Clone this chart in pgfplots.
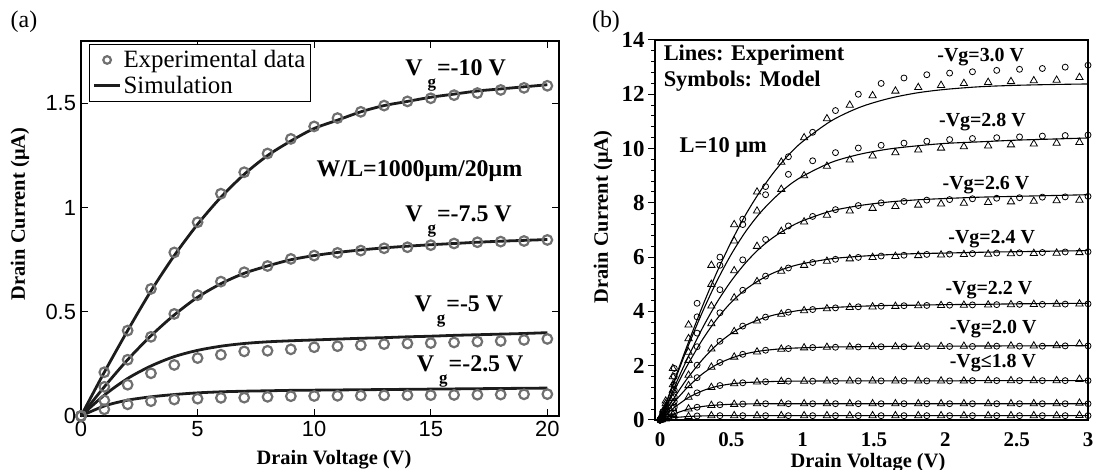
\documentclass[border=0pt]{standalone}
\usepackage{fontspec}
\setmainfont{Liberation Serif}
\newfontfamily\arialfont{Liberation Sans}
\usepackage{pgfplots}
\usepackage{pgfplotstable}
\pgfplotsset{compat=1.18}

\definecolor{circgray}{RGB}{112,112,112}
\definecolor{simblack}{RGB}{28,28,28}

\pgfplotsset{
  circlegend/.style={legend image code/.code={\draw[mark repeat=2,mark phase=2,##1,mark size=3.8bp] plot coordinates {(0bp,0bp) (13bp,0bp) (26bp,0bp)};}},
  linelegend/.style={legend image code/.code={\draw[##1] (0bp,0bp) -- (26bp,0bp);}},
}

\pgfplotstableread{
V C10 L10 C75 L75 C5 L5 C25 L25
0 0 0 0 0 0 0 0 0
1 0.21 0.21 0.14 0.14 0.075 0.10 0.032 0.048
2 0.41 0.41 0.27 0.27 0.15 0.18 0.056 0.076
3 0.61 0.60 0.38 0.385 0.205 0.24 0.071 0.092
4 0.785 0.77 0.49 0.485 0.245 0.285 0.079 0.103
5 0.93 0.92 0.58 0.57 0.278 0.315 0.083 0.111
6 1.067 1.05 0.645 0.635 0.294 0.335 0.087 0.116
7 1.17 1.16 0.69 0.685 0.31 0.348 0.088 0.119
8 1.26 1.25 0.72 0.72 0.313 0.356 0.092 0.121
9 1.33 1.32 0.754 0.75 0.32 0.361 0.095 0.123
10 1.39 1.38 0.77 0.77 0.33 0.365 0.096 0.124
11 1.43 1.42 0.783 0.785 0.335 0.369 0.097 0.125
12 1.46 1.46 0.794 0.797 0.34 0.373 0.098 0.126
13 1.49 1.49 0.805 0.807 0.345 0.376 0.099 0.127
14 1.51 1.51 0.81 0.815 0.348 0.38 0.10 0.128
15 1.525 1.53 0.82 0.822 0.35 0.383 0.10 0.129
16 1.54 1.545 0.828 0.828 0.353 0.387 0.101 0.130
17 1.55 1.56 0.834 0.834 0.357 0.39 0.102 0.131
18 1.565 1.57 0.837 0.839 0.36 0.393 0.103 0.132
19 1.575 1.58 0.84 0.843 0.365 0.396 0.104 0.133
20 1.585 1.59 0.845 0.847 0.37 0.40 0.105 0.134
}\leftdata

\pgfplotstableread{
V L30 L28 L26 L24 L22 L20 L18 Lb Lc
0 0 0 0 0 0 0 0 0 0
0.05 0.73 0.71 0.60 0.54 0.42 0.33 0.23 0.12 0.05
0.1 1.46 1.40 1.20 1.08 0.82 0.66 0.46 0.23 0.09
0.15 2.17 2.09 1.79 1.60 1.22 0.96 0.65 0.32 0.11
0.2 2.87 2.76 2.35 2.09 1.59 1.24 0.83 0.40 0.13
0.3 4.22 4.01 3.41 2.98 2.24 1.71 1.08 0.50 0.15
0.4 5.46 5.13 4.34 3.73 2.78 2.05 1.24 0.55 0.16
0.5 6.57 6.11 5.13 4.34 3.19 2.28 1.33 0.58 0.16
0.6 7.56 6.94 5.79 4.81 3.49 2.44 1.38 0.59 0.16
0.7 8.41 7.62 6.33 5.16 3.71 2.54 1.40 0.60 0.16
0.8 9.14 8.17 6.75 5.43 3.87 2.60 1.42 0.60 0.16
0.9 9.76 8.63 7.08 5.62 3.97 2.64 1.43 0.60 0.16
1.0 10.26 8.98 7.34 5.76 4.05 2.66 1.43 0.60 0.16
1.2 11.02 9.49 7.70 5.94 4.14 2.69 1.44 0.60 0.16
1.4 11.52 9.79 7.90 6.03 4.19 2.70 1.44 0.60 0.16
1.6 11.84 9.98 8.03 6.09 4.22 2.71 1.44 0.60 0.16
1.8 12.05 10.10 8.11 6.13 4.23 2.72 1.44 0.60 0.16
2.0 12.18 10.19 8.16 6.15 4.25 2.72 1.44 0.60 0.16
2.25 12.28 10.25 8.21 6.18 4.26 2.725 1.45 0.60 0.16
2.5 12.33 10.31 8.24 6.20 4.28 2.73 1.45 0.60 0.16
2.75 12.36 10.35 8.27 6.22 4.29 2.735 1.45 0.60 0.16
3.0 12.38 10.39 8.30 6.24 4.30 2.74 1.45 0.60 0.16
}\rlines

\pgfplotstableread{
V C30 C28 C26 C24 C22 C20 C18 Cb Cc
0 0 0 0 0 0 0 0 0 0
0.02 0.3 0.3 0.25 0.22 0.17 0.13 0.09 0.05 0.02
0.10 1.9 1.6 1.3 1.1 0.85 0.68 0.47 0.24 0.09
0.26 4.3 3.8 3.2 2.7 2.02 1.56 1.0 0.47 0.15
0.42 6.0 5.7 4.8 3.95 2.9 2.12 1.27 0.56 0.16
0.58 7.4 7.2 5.9 4.78 3.46 2.42 1.37 0.59 0.16
0.74 8.6 8.3 6.65 5.3 3.79 2.57 1.41 0.60 0.16
0.90 9.7 9.05 7.15 5.6 3.97 2.63 1.43 0.60 0.16
1.07 10.6 9.55 7.5 5.8 4.07 2.67 1.43 0.60 0.16
1.23 11.4 9.85 7.75 5.92 4.13 2.68 1.43 0.60 0.16
1.39 12.0 10.02 7.9 5.99 4.17 2.69 1.44 0.60 0.16
1.55 12.4 10.12 8.0 6.04 4.19 2.70 1.44 0.60 0.16
1.71 12.6 10.2 8.05 6.07 4.21 2.70 1.44 0.60 0.16
1.87 12.72 10.27 8.1 6.1 4.22 2.71 1.44 0.60 0.16
2.03 12.78 10.33 8.12 6.11 4.23 2.71 1.44 0.60 0.16
2.19 12.83 10.37 8.15 6.13 4.24 2.71 1.45 0.60 0.16
2.36 12.88 10.4 8.17 6.15 4.25 2.72 1.45 0.60 0.16
2.52 12.92 10.43 8.19 6.16 4.26 2.72 1.45 0.60 0.16
2.68 12.95 10.46 8.21 6.17 4.26 2.72 1.45 0.60 0.16
2.84 13.0 10.48 8.22 6.19 4.27 2.73 1.45 0.60 0.16
3.00 13.07 10.5 8.24 6.20 4.28 2.73 1.45 0.60 0.16
}\rcirc

\pgfplotstableread{
V T30 T28 T26 T24 T22 T20 T18 Tb Tc
0.01 0.15 0.15 0.13 0.11 0.08 0.07 0.05 0.02 0.01
0.04 0.7 0.6 0.5 0.45 0.34 0.28 0.19 0.10 0.04
0.09 1.9 1.6 1.3 1.1 0.80 0.62 0.43 0.21 0.08
0.20 3.5 3.0 2.5 2.2 1.65 1.27 0.84 0.41 0.13
0.36 5.7 5.0 4.2 3.55 2.62 1.95 1.20 0.54 0.16
0.52 7.2 6.6 5.5 4.5 3.26 2.32 1.34 0.58 0.16
0.68 8.4 7.7 6.4 5.1 3.65 2.51 1.40 0.60 0.16
0.85 9.5 8.5 6.95 5.48 3.90 2.61 1.42 0.60 0.16
1.01 10.4 9.0 7.3 5.70 4.03 2.66 1.43 0.60 0.16
1.17 11.1 9.35 7.55 5.85 4.10 2.68 1.44 0.60 0.16
1.33 11.6 9.58 7.7 5.94 4.15 2.69 1.44 0.60 0.16
1.49 11.95 9.73 7.8 5.99 4.17 2.70 1.44 0.60 0.16
1.65 12.12 9.85 7.87 6.03 4.19 2.70 1.44 0.60 0.16
1.81 12.25 9.95 7.92 6.06 4.21 2.71 1.44 0.60 0.16
1.97 12.33 10.02 7.96 6.08 4.22 2.71 1.44 0.60 0.16
2.13 12.40 10.07 7.99 6.10 4.23 2.72 1.44 0.60 0.16
2.30 12.44 10.10 8.02 6.11 4.24 2.72 1.45 0.60 0.16
2.46 12.47 10.14 8.04 6.13 4.25 2.73 1.45 0.60 0.16
2.62 12.50 10.17 8.06 6.14 4.26 2.73 1.45 0.60 0.16
2.78 12.52 10.20 8.08 6.15 4.27 2.74 1.45 0.60 0.16
2.94 12.62 10.23 8.10 6.17 4.28 2.80 1.50 0.62 0.17
}\rtri

\newcommand{\lbl}[1]{\fontsize{#1}{#1}\selectfont\bfseries}
\newcommand{\Vg}[1]{V\hspace{5bp}\raisebox{-12bp}{\fontsize{17}{17}\selectfont\bfseries g}\hspace{1bp}#1}

\begin{document}
\begin{tikzpicture}[x=1bp,y=1bp]
\useasboundingbox (0,0) rectangle (1094,470);
\node[font=\fontsize{24}{24}\selectfont] at (24,448) {(a)};
\node[font=\fontsize{24}{24}\selectfont] at (606,448) {(b)};
\node[font=\lbl{20.5}, anchor=base] at (334,5) {Drain Voltage (V)};
\node[font=\lbl{20.5}, anchor=base] at (868,2.5) {Drain Voltage (V)};
\node[font=\lbl{20.5}, rotate=90] at (20,256) {Drain Current (μA)};
\node[font=\lbl{20.5}, rotate=90] at (603,253) {Drain Current (μA)};

\begin{axis}[
  at={(81bp,54bp)}, anchor=south west, scale only axis,
  width=478bp, height=375bp,
  xmin=0, xmax=20.5, ymin=0, ymax=1.8,
  xtick={0,5,10,15,20}, ytick={0,0.5,1,1.5},
  yticklabels={0,0.5,1,1.5},
  tick align=inside, major tick length=7bp,
  axis line style={line width=1.2bp},
  tick style={line width=1bp, black},
  ticklabel style={font=\arialfont\fontsize{22}{22}\selectfont},
  xticklabel style={yshift=-2bp},
  yticklabel style={xshift=-1.5bp},
  /pgf/number format/assume math mode=true,
  clip=false,
  legend cell align=left,
  legend style={at={(0.017,0.992)}, anchor=north west, draw=black, line width=1.2bp,
    font=\fontsize{25}{27}\selectfont, inner xsep=3bp, inner ysep=4bp,
    row sep=3bp, nodes={inner sep=2bp}},
]
\addplot[only marks, mark=o, mark size=4.8bp, circgray, line width=2.2bp, circlegend]
  table[x=V,y=C10]{\leftdata};
\addlegendentry{Experimental data}
\addplot[simblack, line width=2.8bp, smooth, linelegend]
  table[x=V,y=L10]{\leftdata};
\addlegendentry{Simulation}
\addplot[forget plot, only marks, mark=o, mark size=4.8bp, circgray, line width=2.2bp] table[x=V,y=C75]{\leftdata};
\addplot[forget plot, simblack, line width=2.8bp, smooth] table[x=V,y=L75]{\leftdata};
\addplot[forget plot, only marks, mark=o, mark size=4.8bp, circgray, line width=2.2bp] table[x=V,y=C5]{\leftdata};
\addplot[forget plot, simblack, line width=2.8bp, smooth] table[x=V,y=L5]{\leftdata};
\addplot[forget plot, only marks, mark=o, mark size=4.8bp, circgray, line width=2.2bp] table[x=V,y=C25]{\leftdata};
\addplot[forget plot, simblack, line width=2.8bp, smooth] table[x=V,y=L25]{\leftdata};

\node[anchor=base west, inner sep=0, font=\lbl{24}] at (axis cs:13.9,1.635) {\Vg{=-10 V}};
\node[anchor=base west, inner sep=0, font=\lbl{24}] at (axis cs:10.1,1.151) {W/L=1000μm/20μm};
\node[anchor=base west, inner sep=0, font=\lbl{24}] at (axis cs:13.9,0.932) {\Vg{=-7.5 V}};
\node[anchor=base west, inner sep=0, font=\lbl{24}] at (axis cs:14.3,0.50) {\Vg{=-5 V}};
\node[anchor=base west, inner sep=0, font=\lbl{24}] at (axis cs:14.4,0.214) {\Vg{=-2.5 V}};
\end{axis}

\begin{axis}[
  at={(655bp,50bp)}, anchor=south west, scale only axis,
  width=433bp, height=380bp,
  xmin=-0.035, xmax=3, ymin=0, ymax=14,
  xtick={0,0.5,1,1.5,2,2.5,3}, xticklabels={0,0.5,1,1.5,2,2.5,3},
  ytick={0,2,4,6,8,10,12,14},
  minor y tick num=4,
  ytick pos=left, xtick pos=bottom,
  x tick style={draw=none},
  tick align=outside, major tick length=7bp, minor tick length=4bp,
  axis line style={line width=1.2bp},
  y tick style={line width=1bp, black},
  xticklabel style={font=\lbl{21}, yshift=-2bp},
  yticklabel style={font=\lbl{23}},
  /pgf/number format/assume math mode=true,
]
\addplot[black, line width=1.1bp, smooth] table[x=V,y=L30]{\rlines};
\addplot[black, line width=1.1bp, smooth] table[x=V,y=L28]{\rlines};
\addplot[black, line width=1.1bp, smooth] table[x=V,y=L26]{\rlines};
\addplot[black, line width=1.1bp, smooth] table[x=V,y=L24]{\rlines};
\addplot[black, line width=1.1bp, smooth] table[x=V,y=L22]{\rlines};
\addplot[black, line width=1.1bp, smooth] table[x=V,y=L20]{\rlines};
\addplot[black, line width=1.1bp, smooth] table[x=V,y=L18]{\rlines};
\addplot[black, line width=1.1bp, smooth] table[x=V,y=Lb]{\rlines};
\addplot[black, line width=1.1bp, smooth] table[x=V,y=Lc]{\rlines};
\addplot[only marks, mark=o, mark size=3bp, black, line width=0.8bp] table[x=V,y=C30]{\rcirc};
\addplot[only marks, mark=o, mark size=3bp, black, line width=0.8bp] table[x=V,y=C28]{\rcirc};
\addplot[only marks, mark=o, mark size=3bp, black, line width=0.8bp] table[x=V,y=C26]{\rcirc};
\addplot[only marks, mark=o, mark size=3bp, black, line width=0.8bp] table[x=V,y=C24]{\rcirc};
\addplot[only marks, mark=o, mark size=3bp, black, line width=0.8bp] table[x=V,y=C22]{\rcirc};
\addplot[only marks, mark=o, mark size=3bp, black, line width=0.8bp] table[x=V,y=C20]{\rcirc};
\addplot[only marks, mark=o, mark size=3bp, black, line width=0.8bp] table[x=V,y=C18]{\rcirc};
\addplot[only marks, mark=o, mark size=3bp, black, line width=0.8bp] table[x=V,y=Cb]{\rcirc};
\addplot[only marks, mark=o, mark size=3bp, black, line width=0.8bp] table[x=V,y=Cc]{\rcirc};
\addplot[only marks, mark=triangle, mark size=4.2bp, black, line width=0.8bp] table[x=V,y=T30]{\rtri};
\addplot[only marks, mark=triangle, mark size=4.2bp, black, line width=0.8bp] table[x=V,y=T28]{\rtri};
\addplot[only marks, mark=triangle, mark size=4.2bp, black, line width=0.8bp] table[x=V,y=T26]{\rtri};
\addplot[only marks, mark=triangle, mark size=4.2bp, black, line width=0.8bp] table[x=V,y=T24]{\rtri};
\addplot[only marks, mark=triangle, mark size=4.2bp, black, line width=0.8bp] table[x=V,y=T22]{\rtri};
\addplot[only marks, mark=triangle, mark size=4.2bp, black, line width=0.8bp] table[x=V,y=T20]{\rtri};
\addplot[only marks, mark=triangle, mark size=4.2bp, black, line width=0.8bp] table[x=V,y=T18]{\rtri};
\addplot[only marks, mark=triangle, mark size=4.2bp, black, line width=0.8bp] table[x=V,y=Tb]{\rtri};
\addplot[only marks, mark=triangle, mark size=4.2bp, black, line width=0.8bp] table[x=V,y=Tc]{\rtri};
\node[anchor=base west, inner sep=0, font=\lbl{22.5}] at (axis cs:0.025,13.24) {Lines: Experiment};
\node[anchor=base west, inner sep=0, font=\lbl{22.5}] at (axis cs:0.025,12.29) {Symbols: Model};
\node[anchor=base west, inner sep=0, font=\lbl{22.5}] at (axis cs:0.136,9.84) {L=10 μm};
\node[anchor=base west, inner sep=0, font=\lbl{20}] at (axis cs:1.943,13.2) {-Vg=3.0 V};
\node[anchor=base west, inner sep=0, font=\lbl{20}] at (axis cs:1.955,10.82) {-Vg=2.8 V};
\node[anchor=base west, inner sep=0, font=\lbl{20}] at (axis cs:1.98,8.5) {-Vg=2.6 V};
\node[anchor=base west, inner sep=0, font=\lbl{20}] at (axis cs:2.02,6.5) {-Vg=2.4 V};
\node[anchor=base west, inner sep=0, font=\lbl{20}] at (axis cs:2.0,4.63) {-Vg=2.2 V};
\node[anchor=base west, inner sep=0, font=\lbl{20}] at (axis cs:2.03,3.17) {-Vg=2.0 V};
\node[anchor=base west, inner sep=0, font=\lbl{20}] at (axis cs:2.03,1.95) {-Vg≤1.8 V};
\end{axis}
\end{tikzpicture}
\end{document}
